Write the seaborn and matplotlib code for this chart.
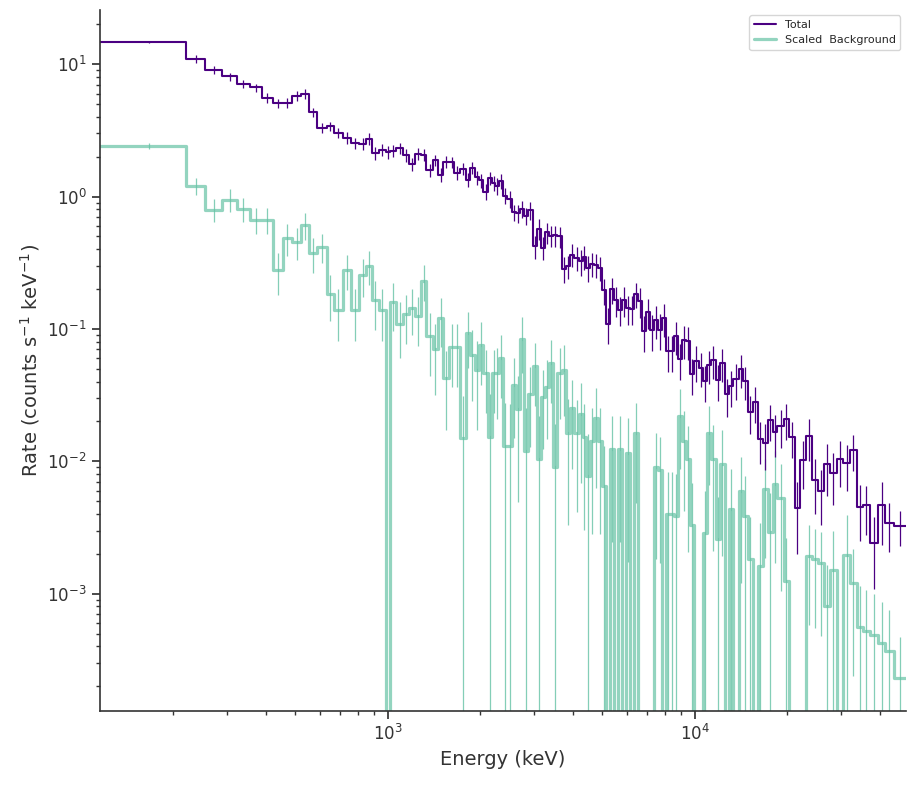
import matplotlib
matplotlib.use("Agg")
import matplotlib.pyplot as plt
import seaborn as sns
import pandas as pd
import numpy as np

# bin edges (keV)
edges = [115.3, 219.3, 253.5, 288.0, 322.2, 354.4, 388.7, 421.1, 454.9, 486.8,
         522.6, 551.6, 585.7, 631.6, 668.6, 712.1, 757.9, 807.7, 848.1, 887.1,
         932.6, 982.9, 1018.9, 1061.8, 1123.2, 1173.2, 1224.4, 1285.6, 1334.8, 1401.5,
         1455.1, 1514.1, 1586.2, 1644.3, 1716.1, 1791.1, 1854.0, 1916.2, 1974.6, 2046.9,
         2117.2, 2176.8, 2239.7, 2304.4, 2369.3, 2450.6, 2534.6, 2611.8, 2691.3, 2773.3,
         2857.8, 2967.0, 3057.3, 3150.4, 3246.4, 3352.8, 3454.9, 3565.4, 3687.8, 3800.1,
         3915.8, 4050.2, 4179.8, 4307.1, 4425.0, 4559.8, 4688.1, 4830.8, 4966.7, 5118.0,
         5273.9, 5434.5, 5600.0, 5770.6, 5959.7, 6141.2, 6328.3, 6521.0, 6719.6, 6924.3,
         7135.2, 7352.5, 7576.4, 7807.2, 8045.0, 8290.0, 8542.5, 8822.5, 9091.2, 9347.0,
         9631.6, 9925.0, 10304, 10594, 10917, 11300, 11679, 12062, 12495, 12875,
         13327, 13878, 14300, 14880, 15414, 16039, 16615, 17288, 17911, 18540,
         19496, 20195, 21172, 21981, 22993, 24052, 25159, 26318, 27529, 28948,
         30417, 31983, 33629, 35257, 37157, 39543, 41582, 44484, 48674]

# total rate (counts / s / keV)
total = [14.79, 11.06, 9.09, 8.09, 7.16, 6.68, 5.59, 5.06, 5.12, 5.78,
         5.99, 4.33, 3.33, 3.42, 3.03, 2.79, 2.53, 2.51, 2.75, 2.12,
         2.26, 2.18, 2.22, 2.33, 2.05, 1.75, 2.11, 2.08, 1.58, 1.88,
         1.46, 1.83, 1.82, 1.52, 1.63, 1.34, 1.66, 1.40, 1.33, 1.09,
         1.38, 1.27, 1.21, 1.32, 1.02, 0.961, 0.761, 0.75, 0.808, 0.719,
         0.788, 0.422, 0.571, 0.412, 0.538, 0.508, 0.51, 0.50, 0.285, 0.298,
         0.365, 0.345, 0.325, 0.351, 0.290, 0.310, 0.305, 0.290, 0.196, 0.110,
         0.199, 0.165, 0.140, 0.165, 0.143, 0.142, 0.184, 0.162, 0.0962, 0.134,
         0.098, 0.1165, 0.0991, 0.1206, 0.0676, 0.068, 0.0882, 0.0589, 0.0823, 0.081,
         0.0454, 0.0568, 0.0510, 0.0404, 0.0530, 0.0578, 0.0411, 0.0556, 0.0320, 0.0370,
         0.0416, 0.0495, 0.0402, 0.0236, 0.0280, 0.01466, 0.01384, 0.0204, 0.01664, 0.01846,
         0.02075, 0.01526, 0.00447, 0.01023, 0.01552, 0.00723, 0.00597, 0.0095, 0.00812, 0.01035,
         0.00966, 0.01217, 0.00455, 0.00466, 0.00243, 0.00468, 0.00343, 0.00325]

# relative 1-sigma errors on the total
total_err = [0.02, 0.07, 0.07, 0.07, 0.07, 0.07, 0.08, 0.08, 0.08, 0.08,
             0.08, 0.08, 0.09, 0.08, 0.09, 0.10, 0.10, 0.10, 0.10, 0.11,
             0.10, 0.11, 0.10, 0.10, 0.11, 0.11, 0.10, 0.10, 0.11, 0.10,
             0.12, 0.10, 0.10, 0.12, 0.11, 0.12, 0.11, 0.12, 0.12, 0.14,
             0.12, 0.13, 0.15, 0.13, 0.14, 0.14, 0.14, 0.15, 0.14, 0.15,
             0.15, 0.20, 0.18, 0.20, 0.18, 0.18, 0.18, 0.18, 0.22, 0.20,
             0.20, 0.20, 0.22, 0.20, 0.22, 0.20, 0.20, 0.20, 0.22, 0.30,
             0.22, 0.25, 0.25, 0.25, 0.25, 0.25, 0.22, 0.25, 0.30, 0.25,
             0.30, 0.28, 0.30, 0.28, 0.30, 0.30, 0.28, 0.30, 0.28, 0.28,
             0.30, 0.30, 0.28, 0.30, 0.28, 0.28, 0.30, 0.28, 0.32, 0.30,
             0.30, 0.28, 0.28, 0.32, 0.30, 0.35, 0.38, 0.30, 0.35, 0.32,
             0.30, 0.30, 0.55, 0.40, 0.35, 0.45, 0.45, 0.42, 0.42, 0.38,
             0.38, 0.30, 0.45, 0.40, 0.55, 0.50, 0.40, 0.30]

# scaled background rate (0 = empty / negative bin)
background = [2.43, 1.21, 0.798, 0.949, 0.808, 0.671, 0.67, 0.278, 0.488, 0.457,
              0.615, 0.376, 0.417, 0.184, 0.140, 0.280, 0.140, 0.256, 0.301, 0.165,
              0.140, 0.0, 0.160, 0.110, 0.1287, 0.1445, 0.1249, 0.2323, 0.0882, 0.070,
              0.1215, 0.0428, 0.0729, 0.073, 0.0149, 0.0925, 0.0634, 0.0489, 0.0754, 0.0461,
              0.01536, 0.0461, 0.0461, 0.0599, 0.01305, 0.0130, 0.0375, 0.0247, 0.0843, 0.01196,
              0.0320, 0.0524, 0.01048, 0.0308, 0.0366, 0.0549, 0.00912, 0.0461, 0.0489, 0.01647,
              0.0251, 0.01647, 0.0229, 0.01518, 0.0077, 0.01416, 0.0211, 0.01416, 0.00648, 0.0,
              0.01232, 0.0, 0.01232, 0.0, 0.0115, 0.0, 0.01627, 0.0, 0.0, 0.0,
              0.0, 0.00912, 0.00855, 0.0, 0.00398, 0.00398, 0.00385, 0.0219, 0.01416, 0.01035,
              0.00329, 0.0, 0.0, 0.00286, 0.01647, 0.01048, 0.00258, 0.00961, 0.0, 0.00440,
              0.0, 0.00597, 0.00387, 0.00182, 0.0, 0.00162, 0.00615, 0.00290, 0.00679, 0.00526,
              0.00125, 0.0, 0.0, 0.0, 0.00193, 0.00182, 0.00170, 0.00080, 0.00150, 0.0,
              0.00195, 0.00120, 0.000556, 0.000518, 0.000486, 0.000423, 0.000368, 0.000230]

background_err = [0.05, 0.15, 0.20, 0.20, 0.20, 0.22, 0.22, 0.35, 0.27, 0.27,
                  0.23, 0.30, 0.25, 0.38, 0.42, 0.30, 0.42, 0.32, 0.28, 0.40,
                  0.42, 0.0, 0.40, 0.45, 0.40, 0.38, 0.40, 0.30, 0.50, 0.55,
                  0.40, 0.60, 0.50, 0.50, 1.10, 0.45, 0.55, 0.65, 0.50, 0.50,
                  1.10, 0.50, 0.55, 0.50, 1.10, 1.10, 0.60, 0.80, 0.45, 1.10,
                  0.60, 0.50, 1.10, 0.60, 0.60, 0.50, 1.10, 0.55, 0.55, 0.80,
                  0.65, 0.75, 0.70, 0.80, 1.10, 0.80, 0.70, 0.80, 1.00, 0.0,
                  0.80, 0.0, 0.80, 0.0, 0.85, 0.0, 0.70, 0.0, 0.0, 0.0,
                  0.0, 0.80, 0.80, 0.0, 1.10, 1.10, 1.10, 0.60, 0.70, 0.80,
                  1.10, 0.0, 0.0, 1.10, 0.60, 0.80, 1.10, 0.80, 0.0, 1.00,
                  0.0, 0.80, 1.00, 1.10, 0.0, 1.10, 0.70, 1.00, 0.75, 0.80,
                  1.10, 0.0, 0.0, 0.0, 0.70, 0.70, 0.72, 1.05, 1.00, 0.0,
                  1.00, 0.80, 1.05, 1.05, 1.05, 1.05, 1.05, 1.05]

labels = ["Total", "Scaled  Background"]
colors = ["#4b0082", "#66c2a5"]

sns.set_theme(style="ticks")
plt.rcParams["font.family"] = ["DejaVu Sans"]

edges_a = np.array(edges)
centers = 0.5 * (edges_a[:-1] + edges_a[1:])

steps = pd.DataFrame({
    "energy": edges,
    "total": total + [total[-1]],
    "background": background + [background[-1]],
})

fig = plt.figure(figsize=(9.16, 7.86), dpi=100)
ax = fig.add_axes([0.109, 0.0955, 0.880, 0.892])

# background first, total drawn on top
sns.lineplot(data=steps, x="energy", y="background", drawstyle="steps-post",
             estimator=None, sort=False, color=colors[1], lw=2.3, alpha=0.7,
             ax=ax, label=labels[1])
bk = np.array(background)
ax.errorbar(centers, bk, yerr=bk * np.array(background_err), fmt="none",
            ecolor=colors[1], elinewidth=0.9, alpha=0.8)

sns.lineplot(data=steps, x="energy", y="total", drawstyle="steps-post",
             estimator=None, sort=False, color=colors[0], lw=1.5,
             ax=ax, label=labels[0])
tt = np.array(total)
ax.errorbar(centers, tt, yerr=tt * np.array(total_err), fmt="none",
            ecolor=colors[0], elinewidth=0.9)

ax.set_xscale("log")
ax.set_yscale("log")
ax.set_xlim(edges[0], edges[-1])
ax.set_ylim(1.3e-4, 25.8)

ax.set_xlabel("Energy (keV)", fontsize=14, color="#333333")
ax.set_ylabel(r"Rate (counts s$^{-1}$ keV$^{-1}$)", fontsize=14, color="#333333")
ax.tick_params(axis="both", which="major", labelsize=12, length=6,
               labelcolor="#333333", color="#333333")
ax.tick_params(axis="both", which="minor", length=3, color="#333333")
for s in ["left", "bottom"]:
    ax.spines[s].set_color("#333333")
    ax.spines[s].set_linewidth(1.2)
sns.despine(ax=ax)

h, l = ax.get_legend_handles_labels()
order = [l.index(labels[0]), l.index(labels[1])]
ax.legend([h[i] for i in order], [l[i] for i in order], loc="upper right",
          fontsize=8, frameon=True)

fig.savefig("out.png", dpi=100)
